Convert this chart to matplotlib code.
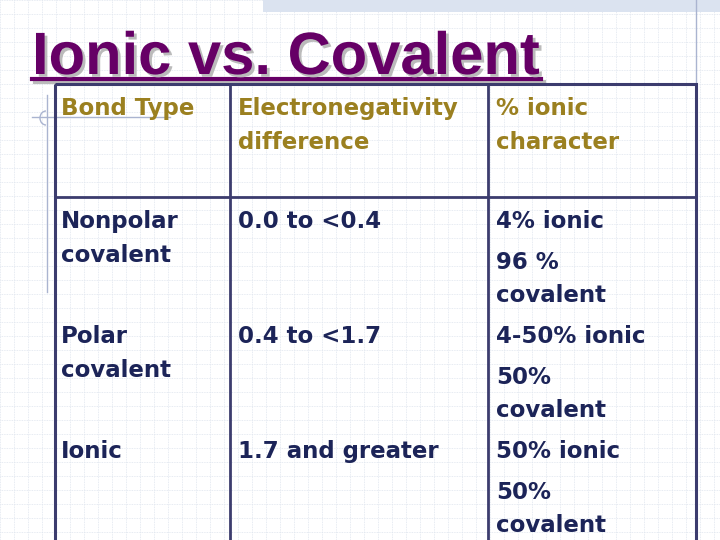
import matplotlib
matplotlib.use("Agg")
import matplotlib.pyplot as plt
import matplotlib.patheffects as pe
from matplotlib.patches import Rectangle, Arc

title = "Ionic vs. Covalent"
headers = [["Bond Type"], ["Electronegativity", "difference"], ["% ionic", "character"]]
bond_types = [["Nonpolar", "covalent"], ["Polar", "covalent"], ["Ionic"]]
en_diff = ["0.0 to <0.4", "0.4 to <1.7", "1.7 and greater"]
ionic_char = [["4% ionic", "96 %", "covalent"], ["4-50% ionic", "50%", "covalent"], ["50% ionic", "50%", "covalent"]]

fig = plt.figure(figsize=(7.2, 5.4), dpi=100)
ax = fig.add_axes([0, 0, 1, 1])
ax.set_xlim(0, 720); ax.set_ylim(540, 0); ax.axis("off")

# faint grid background
for x in range(0, 721, 14):
    ax.plot([x, x], [0, 540], color="#dfe5ee", lw=0.6, ls=(0, (1, 1)), zorder=0)
for y in range(0, 541, 14):
    ax.plot([0, 720], [y, y], color="#dfe5ee", lw=0.6, ls=(0, (1, 1)), zorder=0)
ax.add_patch(Rectangle((263, 0), 457, 12, facecolor="#dbe3f0", edgecolor="none", hatch="xxxx", zorder=1))
ax.plot([696, 696], [0, 90], color="#aab4d0", lw=1, zorder=1)
ax.plot([47, 47], [95, 292], color="#aab4d0", lw=1, zorder=1)
ax.plot([32, 170], [117, 117], color="#aab4d0", lw=1, zorder=1)
ax.add_patch(Arc((46, 118), 12, 14, theta1=90, theta2=270, color="#aab4d0", lw=1))

# title
shadow = [pe.SimplePatchShadow(offset=(2, -2), shadow_rgbFace="#bbbbbb", alpha=1), pe.Normal()]
ax.text(32, 74, title, fontsize=43, fontweight="bold", color="#660066", family="Liberation Sans",
        va="baseline", path_effects=shadow)
ax.plot([32, 541], [79, 79], color="#660066", lw=3, path_effects=[pe.SimpleLineShadow(offset=(2, -2), shadow_color="#bbbbbb", alpha=1), pe.Normal()])

# table
lc = "#3c3c6e"
ax.add_patch(Rectangle((55, 84), 641, 470, fill=False, edgecolor=lc, lw=2.2, zorder=3))
for x in [230, 488]:
    ax.plot([x, x], [84, 540], color=lc, lw=2, zorder=3)
ax.plot([55, 696], [197, 197], color=lc, lw=2, zorder=3)

hc = "#9b8020"
bc = "#1c2458"
fs = 16.5
colx = [61, 238, 496]
kw = dict(fontsize=fs, fontweight="bold", va="baseline", family="DejaVu Sans")
for cx, lines in zip(colx, headers):
    for i, t in enumerate(lines):
        ax.text(cx, 115 + 34 * i, t, color=hc, **kw)

rowy = [228, 343, 458]
for ry, bt, en, ic in zip(rowy, bond_types, en_diff, ionic_char):
    for i, t in enumerate(bt):
        ax.text(colx[0], ry + 34 * i, t, color=bc, **kw)
    ax.text(colx[1], ry, en, color=bc, **kw)
    offs = [0, 41, 74]
    for o, t in zip(offs, ic):
        ax.text(colx[2], ry + o, t, color=bc, **kw)

fig.savefig("out.png", dpi=100)
